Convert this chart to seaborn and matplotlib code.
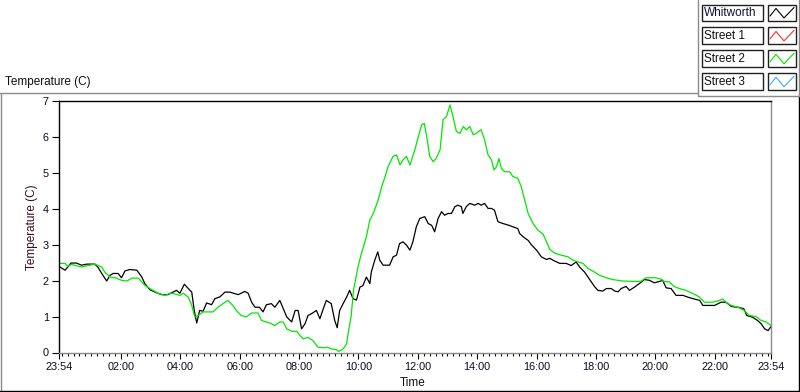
import matplotlib
matplotlib.use("Agg")
import numpy as np
import pandas as pd
import matplotlib.pyplot as plt
import seaborn as sns
from matplotlib.lines import Line2D
from matplotlib.patches import Rectangle

# (minutes after 23:54, temperature C)
whitworth = [
    (0, 2.40), (13, 2.29), (25, 2.49), (36, 2.49), (46, 2.43), (57, 2.46), (73, 2.46),
    (79, 2.38), (87, 2.20), (97, 1.99), (104, 2.15), (110, 2.20), (120, 2.20), (127, 2.08),
    (134, 2.27), (144, 2.31), (158, 2.29), (168, 2.10), (174, 1.92), (184, 1.75), (195, 1.68),
    (208, 1.61), (221, 1.61), (231, 1.68), (238, 1.73), (245, 1.65), (254, 1.90), (262, 1.78),
    (269, 1.68), (274, 1.17), (279, 0.82), (285, 1.17), (292, 1.15), (299, 1.38), (309, 1.33),
    (316, 1.50), (326, 1.55), (336, 1.68), (346, 1.68), (363, 1.61), (376, 1.70), (383, 1.65),
    (390, 1.40), (397, 1.26), (406, 1.26), (413, 1.13), (420, 1.33), (430, 1.36), (437, 1.26),
    (447, 1.45), (454, 1.22), (461, 0.99), (471, 0.85), (478, 1.17), (484, 1.17), (491, 0.66),
    (498, 0.80), (504, 1.03), (511, 1.08), (521, 1.17), (528, 0.94), (535, 1.22), (541, 1.45),
    (551, 1.36), (558, 0.89), (563, 0.69), (568, 1.17), (575, 1.36), (582, 1.54), (588, 1.73),
    (595, 1.50), (602, 1.46), (609, 1.82), (615, 1.86), (622, 2.10), (629, 1.92), (632, 2.24),
    (639, 2.57), (645, 2.80), (649, 2.57), (656, 2.43), (669, 2.43), (676, 2.66), (683, 2.71),
    (689, 3.03), (696, 3.08), (703, 2.99), (710, 2.85), (716, 3.08), (723, 3.50), (730, 3.73),
    (740, 3.78), (747, 3.59), (754, 3.54), (760, 3.36), (767, 3.73), (774, 3.92), (780, 3.82),
    (787, 3.87), (794, 3.87), (801, 4.06), (807, 4.10), (814, 4.06), (817, 3.87), (824, 4.06),
    (831, 4.15), (841, 4.10), (848, 4.15), (854, 4.10), (861, 4.15), (868, 4.01), (875, 4.01),
    (881, 3.96), (888, 3.64), (898, 3.59), (908, 3.55), (918, 3.50), (928, 3.45), (932, 3.31),
    (939, 3.22), (949, 3.12), (956, 2.99), (966, 2.85), (976, 2.66), (986, 2.59), (993, 2.62),
    (999, 2.57), (1013, 2.48), (1026, 2.48), (1036, 2.42), (1046, 2.52), (1053, 2.38),
    (1063, 2.24), (1070, 2.10), (1077, 1.96), (1083, 1.84), (1090, 1.73), (1100, 1.71),
    (1107, 1.78), (1117, 1.78), (1124, 1.71), (1131, 1.69), (1137, 1.78), (1147, 1.84),
    (1154, 1.73), (1164, 1.82), (1174, 1.92), (1184, 2.03), (1194, 2.01), (1204, 1.94),
    (1215, 1.98), (1221, 2.01), (1228, 1.80), (1238, 1.78), (1248, 1.59), (1262, 1.59),
    (1272, 1.54), (1282, 1.50), (1296, 1.45), (1302, 1.31), (1316, 1.31), (1326, 1.31),
    (1333, 1.36), (1339, 1.40), (1349, 1.40), (1360, 1.28), (1373, 1.26), (1385, 1.22),
    (1391, 1.03), (1403, 0.98), (1413, 0.89), (1420, 0.80), (1427, 0.66), (1434, 0.61),
    (1440, 0.72),
]

street2 = [
    (0, 2.48), (13, 2.48), (18, 2.40), (26, 2.45), (46, 2.38), (60, 2.42), (73, 2.46),
    (87, 2.38), (93, 2.24), (104, 2.10), (114, 2.08), (127, 2.01), (138, 1.99), (148, 2.07),
    (161, 2.07), (168, 1.96), (174, 1.87), (188, 1.75), (201, 1.65), (215, 1.59), (225, 1.65),
    (235, 1.63), (245, 1.59), (252, 1.65), (262, 1.54), (269, 1.31), (275, 0.99), (282, 1.03),
    (292, 1.13), (302, 1.13), (312, 1.13), (322, 1.26), (332, 1.36), (342, 1.45), (352, 1.31),
    (359, 1.17), (369, 1.03), (379, 0.99), (390, 1.10), (403, 1.10), (410, 0.89), (420, 0.85),
    (427, 0.82), (437, 0.75), (447, 0.85), (454, 0.85), (461, 0.66), (471, 0.59), (481, 0.59),
    (488, 0.47), (494, 0.38), (504, 0.42), (514, 0.33), (524, 0.15), (535, 0.13), (543, 0.15),
    (551, 0.10), (561, 0.08), (566, 0.03), (575, 0.10), (582, 0.24), (586, 0.61), (591, 0.99),
    (596, 1.73), (605, 2.38), (612, 2.76), (622, 3.22), (629, 3.69), (636, 3.87), (646, 4.25),
    (653, 4.62), (660, 4.90), (666, 5.18), (676, 5.46), (683, 5.50), (690, 5.22), (696, 5.36),
    (703, 5.46), (710, 5.22), (720, 5.64), (727, 6.01), (734, 6.34), (739, 6.38), (744, 6.01),
    (750, 5.46), (757, 5.31), (763, 5.40), (771, 5.64), (777, 6.48), (784, 6.57), (791, 6.89),
    (797, 6.57), (804, 6.15), (811, 6.10), (818, 6.29), (824, 6.20), (831, 6.29), (838, 6.06),
    (844, 6.10), (854, 6.20), (861, 5.92), (868, 5.50), (875, 5.36), (880, 5.08), (885, 5.17),
    (890, 5.40), (895, 5.12), (902, 5.03), (912, 5.03), (918, 4.90), (928, 4.85), (935, 4.62),
    (942, 4.25), (949, 3.87), (959, 3.59), (969, 3.40), (979, 3.30), (993, 2.87), (1003, 2.76),
    (1016, 2.71), (1030, 2.66), (1040, 2.57), (1050, 2.52), (1060, 2.48), (1070, 2.34),
    (1083, 2.24), (1093, 2.15), (1107, 2.08), (1120, 2.03), (1140, 1.99), (1160, 1.98),
    (1177, 1.98), (1187, 2.08), (1207, 2.08), (1218, 2.04), (1224, 1.97), (1234, 1.97),
    (1244, 1.84), (1255, 1.78), (1268, 1.73), (1282, 1.64), (1295, 1.55), (1305, 1.40),
    (1322, 1.40), (1336, 1.45), (1342, 1.49), (1349, 1.40), (1359, 1.31), (1373, 1.26),
    (1386, 1.17), (1396, 1.03), (1410, 1.00), (1420, 0.89), (1430, 0.85), (1440, 0.75),
]

series_names = ["Whitworth", "Street 1", "Street 2", "Street 3"]
series_colors = ["#000000", "#ff3030", "#00e800", "#38aaff"]

x_tick_pos = [0] + [126 + 120 * k for k in range(11)] + [1440]
x_tick_labels = ["23:54"] + ["%02d:00" % (2 * k + 2) for k in range(11)] + ["23:54"]
y_ticks = [0, 1, 2, 3, 4, 5, 6, 7]

df = pd.concat([
    pd.DataFrame(whitworth, columns=["minute", "temp"]).assign(series="Whitworth"),
    pd.DataFrame(street2, columns=["minute", "temp"]).assign(series="Street 2"),
])

sns.set_theme(style="white")
plt.rcParams['font.family'] = ['Liberation Sans', 'DejaVu Sans']

W, H = 800, 392
fig = plt.figure(figsize=(W / 100, H / 100), dpi=100)
fig.patch.set_facecolor("white")

x0, x1, y0, y1 = 58.7, 771.0, 101.0, 352.5
ax = fig.add_axes([x0 / W, 1 - y1 / H, (x1 - x0) / W, (y1 - y0) / H])
ax.set_facecolor("white")

sns.lineplot(data=df, x="minute", y="temp", hue="series",
             palette=dict(zip(series_names, series_colors)),
             estimator=None, linewidth=0.9, legend=False, ax=ax)

ax.set_xlim(0, 1440)
ax.set_ylim(0, 7)
ax.set_yticks(y_ticks)
ax.set_xticks(x_tick_pos)
ax.set_xticklabels(x_tick_labels)
ax.set_xticks(np.arange(6, 1440, 12), minor=True)
ax.set_xlabel("")
ax.set_ylabel("")
ax.tick_params(axis="y", which="major", direction="out", length=5, width=0.8,
               color="black", labelsize=7.8, pad=2, labelcolor="#0a0a20", left=True)
ax.tick_params(axis="x", which="major", direction="out", length=4.5, width=0.8,
               color="black", labelsize=7.8, pad=2, labelcolor="#0a0a20", bottom=True)
ax.tick_params(axis="x", which="minor", direction="out", length=2.2, width=0.8,
               color="black", bottom=True)
for side in ["left", "top"]:
    ax.spines[side].set_color("black")
    ax.spines[side].set_linewidth(1.0)
for side in ["right", "bottom"]:
    ax.spines[side].set_color("#8a8a8a")
    ax.spines[side].set_linewidth(1.0)

# overlay in pixel coordinates for the panel frame, labels and legend
ov = fig.add_axes([0, 0, 1, 1], zorder=5)
ov.set_xlim(0, W)
ov.set_ylim(H, 0)
ov.axis("off")
gray = "#8a8a8a"
ov.add_line(Line2D([0, 697.5], [92.5, 92.5], color=gray, lw=1))
ov.add_line(Line2D([0.5, 0.5], [92.5, 391.5], color=gray, lw=1))
ov.add_line(Line2D([0, 800], [391.2, 391.2], color="black", lw=1))
ov.add_line(Line2D([798.8, 798.8], [95.5, 392], color="black", lw=1))
ov.add_line(Line2D([697.5, 697.5], [0, 95.5], color=gray, lw=1))
ov.add_line(Line2D([697.5, 799], [95.5, 95.5], color=gray, lw=1))
ov.add_line(Line2D([799, 799], [0, 95.5], color=gray, lw=1))

ov.text(5, 82, "Temperature (C)", fontsize=8.5, ha="left", va="center", color="#101010")
ov.text(32, 227, "Temperature (C)", fontsize=8.5, ha="center", va="center",
        rotation=90, color="#3a0a20")
ov.text(400, 383, "Time", fontsize=8.5, ha="left", va="center", color="#101010")

# legend: name boxes and line glyphs
for i, (name, col) in enumerate(zip(series_names, series_colors)):
    top = 4.5 + i * 22.9
    h = 16.5
    ov.add_patch(Rectangle((702, top), 60.5, h, facecolor="white",
                           edgecolor="#202020", lw=1))
    ov.text(704, top + h / 2 + 0.5, name, fontsize=8.5, ha="left", va="center",
            color="#101040" if i == 0 else "#101010")
    ov.add_patch(Rectangle((767.5, top), 28.5, h, facecolor="white",
                           edgecolor="#202020", lw=1))
    ov.add_line(Line2D([770, 776, 784, 794], [top + h - 5, top + 4, top + h - 3, top + 3],
                       color=col, lw=0.8))

fig.savefig("out.png", dpi=100, facecolor="white")
